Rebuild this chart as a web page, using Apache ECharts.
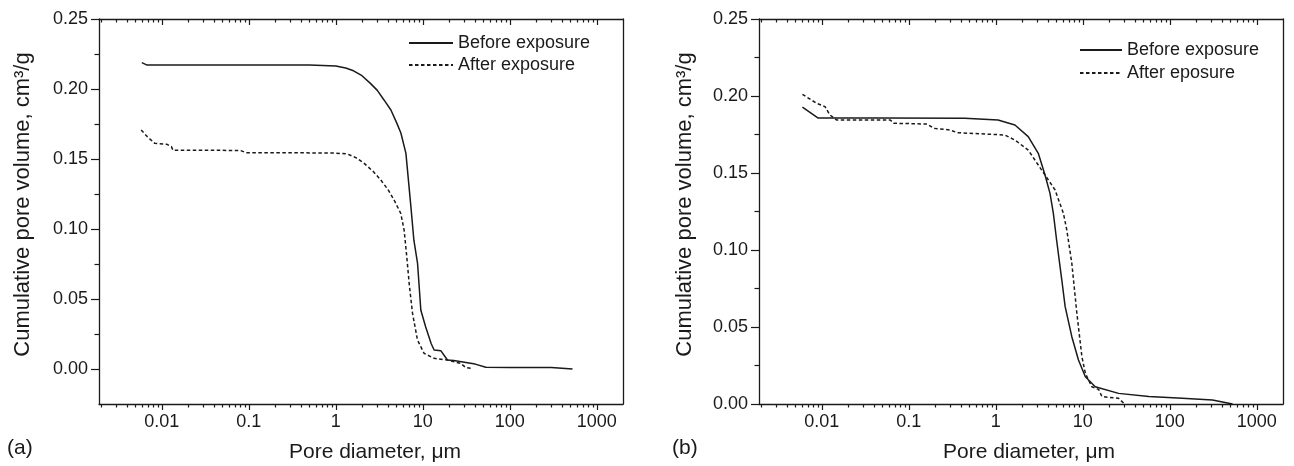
<!DOCTYPE html>
<html>
<head>
<meta charset="utf-8">
<script src="https://cdn.jsdelivr.net/npm/echarts@6/dist/echarts.min.js"></script>
<style>
  html, body { margin: 0; background: #fff; }
  #chart { width: 1294px; height: 466px; }
</style>
</head>
<body>
<div id="chart"></div>
<script>
// pore size distribution, [diameter um, cumulative volume cm3/g]
const beforeA = [
  [0.0059, 0.2188], [0.0067, 0.2172], [0.02, 0.2172], [0.1, 0.2172], [0.5, 0.2171],
  [1.0, 0.2165], [1.3, 0.2150], [1.6, 0.2130], [2.0, 0.2095], [2.5, 0.2040],
  [3.0, 0.1990], [3.6, 0.1920], [4.3, 0.1850], [5.0, 0.1760], [5.6, 0.1686],
  [6.4, 0.1540], [7.3, 0.1160], [7.9, 0.0920], [8.7, 0.0757], [9.5, 0.0420],
  [10.8, 0.0300], [12.5, 0.0180], [13.5, 0.0136], [16.1, 0.0131], [19.2, 0.0064],
  [22.7, 0.0060], [32.6, 0.0045], [40, 0.0035], [53, 0.0012], [100, 0.0011],
  [300, 0.0011], [526, 0.0]
];
const afterA = [
  [0.0058, 0.1707], [0.0068, 0.1660], [0.0083, 0.1612], [0.0115, 0.1605], [0.0129, 0.1588],
  [0.0135, 0.1562], [0.05, 0.1562], [0.081, 0.1560], [0.093, 0.1545], [0.3, 0.1545],
  [1.0, 0.1542], [1.36, 0.1536], [1.7, 0.1510], [2.12, 0.1469], [2.7, 0.1410],
  [3.29, 0.1350], [4.0, 0.1280], [4.68, 0.1207], [5.58, 0.1112], [6.1, 0.0993],
  [6.55, 0.0800], [7.0, 0.0600], [7.62, 0.0398], [8.69, 0.0207], [10.35, 0.0112],
  [13.5, 0.0076], [19.2, 0.0064], [27.3, 0.0040], [31.2, 0.0010], [35.7, 0.0005]
];
const beforeB = [
  [0.006, 0.1927], [0.0091, 0.1857], [0.05, 0.1857], [0.44, 0.1855], [1.06, 0.1844],
  [1.66, 0.1812], [2.36, 0.1736], [3.08, 0.1628], [3.68, 0.1487], [4.2, 0.1368],
  [4.59, 0.1238], [5.0, 0.1065], [5.74, 0.0805], [6.27, 0.0632], [7.48, 0.0437],
  [8.92, 0.0286], [10.7, 0.0177], [13.9, 0.0112], [25.8, 0.0069], [57.4, 0.0048],
  [139, 0.0037], [309, 0.0026], [527, 0.0]
];
const afterB = [
  [0.006, 0.2011], [0.0087, 0.1953], [0.0109, 0.1931], [0.0124, 0.1877], [0.0149, 0.1844],
  [0.0613, 0.1844], [0.067, 0.1823], [0.163, 0.1818], [0.194, 0.1790], [0.30, 0.1779],
  [0.36, 0.1762], [1.27, 0.1747], [1.66, 0.1714], [2.36, 0.1649], [3.37, 0.1519],
  [4.8, 0.1390], [5.99, 0.1238], [6.55, 0.1130], [7.48, 0.0914], [8.55, 0.0589],
  [9.77, 0.0307], [10.7, 0.0199], [12.7, 0.0112], [15.2, 0.0095], [16.6, 0.0048],
  [25.8, 0.0037], [29.5, 0.0005]
];

const decadeTicks = [0.01, 0.1, 1, 10, 100, 1000];
const decadeLabels = ['0.01', '0.1', '1', '10', '100', '1000'];
const minorSteps = [2, 3, 4, 5, 6, 7, 8, 9];
const yMajor = [0, 0.05, 0.1, 0.15, 0.2, 0.25];
const yLabels = ['0.00', '0.05', '0.10', '0.15', '0.20', '0.25'];
const yMinor = [0.025, 0.075, 0.125, 0.175, 0.225];

const FONT = '"Liberation Sans", Arial, Helvetica, sans-serif';
const INK = '#1a1a1a';
const X_MIN = 0.0019, X_MAX = 2000;

// 2..9 between decades
const xMinor = [];
[0.001].concat(decadeTicks).forEach(d => {
  minorSteps.forEach(m => {
    const v = +(d * m).toPrecision(3);
    if (v > X_MIN && v < X_MAX) xMinor.push(v);
  });
});

function pickLabel(v, ticks, labels) {
  for (let i = 0; i < ticks.length; i++) {
    if (Math.abs(v - ticks[i]) <= ticks[i] * 1e-6 + 1e-9) return labels[i];
  }
  return '';
}

function xAxes(grid, namePad) {
  const base = (pos, ticks, len, inside) => ({
    type: 'log', gridIndex: grid, position: pos, min: X_MIN, max: X_MAX,
    axisLine: { show: false, onZero: false },
    axisTick: { show: true, customValues: ticks, length: len, inside: inside,
      lineStyle: { color: INK, width: 1.2 } },
    axisLabel: { show: false },
    splitLine: { show: false }
  });
  const main = base('bottom', decadeTicks, 6, false);
  main.axisLine = { show: true, onZero: false, lineStyle: { color: INK, width: 1.3 } };
  main.axisLabel = {
    show: true, customValues: decadeTicks, margin: 9,
    fontFamily: FONT, fontSize: 18, color: INK,
    formatter: v => pickLabel(v, decadeTicks, decadeLabels)
  };
  main.name = 'Pore diameter, μm';
  main.nameLocation = 'middle';
  main.nameGap = 38;
  main.nameTextStyle = { fontFamily: FONT, fontSize: 21, color: INK, padding: [0, 0, 0, namePad] };
  const top = base('top', decadeTicks, 6, true);
  top.axisLine = { show: true, onZero: false, lineStyle: { color: INK, width: 1.3 } };
  return [main, base('bottom', xMinor, 3.5, false), top, base('top', xMinor, 3.5, true)];
}

function yAxes(grid, yMin, nameGap) {
  const base = (pos, ticks, len) => ({
    type: 'value', gridIndex: grid, position: pos, min: yMin, max: 0.25,
    axisLine: { show: false, onZero: false },
    axisTick: { show: true, customValues: ticks, length: len, lineStyle: { color: INK, width: 1.2 } },
    axisLabel: { show: false },
    splitLine: { show: false }
  });
  const main = base('left', yMajor, 8);
  main.axisLine = { show: true, onZero: false, lineStyle: { color: INK, width: 1.3 } };
  main.axisLabel = {
    show: true, customValues: yMajor, margin: 11,
    fontFamily: FONT, fontSize: 18, color: INK,
    formatter: v => pickLabel(v, yMajor, yLabels)
  };
  main.name = 'Cumulative pore volume, cm³/g';
  main.nameLocation = 'middle';
  main.nameGap = nameGap;
  main.nameRotate = 90;
  main.nameTextStyle = { fontFamily: FONT, fontSize: 22, color: INK, padding: [0, 0, 0, 14] };
  const right = base('right', [], 0);
  right.axisTick = { show: false };
  right.axisLine = { show: true, onZero: false, lineStyle: { color: INK, width: 1.3 } };
  return [main, base('left', yMinor, 4.5), right];
}

function lineSeries(name, data, xi, yi, dashed) {
  return {
    type: 'line', name: name, data: data, xAxisIndex: xi, yAxisIndex: yi,
    symbol: 'none', smooth: false,
    lineStyle: { color: INK, width: 1.5, type: dashed ? [3.5, 2.5] : 'solid' },
    itemStyle: { color: INK }
  };
}

const legendText = { fontFamily: FONT, fontSize: 18, color: INK };

const chart = echarts.init(document.getElementById('chart'));
chart.setOption({
  animation: false,
  backgroundColor: '#fff',
  grid: [
    { left: 99, top: 19, width: 524, height: 385, containLabel: false, outerBoundsMode: 'none' },
    { left: 759, top: 19, width: 524, height: 385, containLabel: false, outerBoundsMode: 'none' }
  ],
  xAxis: xAxes(0, 28).concat(xAxes(1, 16)),
  yAxis: yAxes(0, -0.025, 65).concat(yAxes(1, 0, 63)),
  legend: [
    { data: ['Before exposure', 'After exposure'], orient: 'vertical', left: 408, top: 34,
      padding: 0, itemWidth: 44, itemHeight: 14, itemGap: 4, textStyle: legendText,
      itemStyle: { opacity: 0 }, selectedMode: false },
    { data: ['Before exposure', 'After eposure'], orient: 'vertical', left: 1079, top: 41,
      padding: 0, itemWidth: 42, itemHeight: 14, itemGap: 5, textStyle: legendText,
      itemStyle: { opacity: 0 }, selectedMode: false }
  ],
  graphic: [
    { type: 'text', left: 7, top: 438, style: { text: '(a)', font: '21px ' + FONT, fill: INK } },
    { type: 'text', left: 672, top: 438, style: { text: '(b)', font: '21px ' + FONT, fill: INK } }
  ],
  series: [
    lineSeries('Before exposure', beforeA, 0, 0, false),
    lineSeries('After exposure', afterA, 0, 0, true),
    lineSeries('Before exposure', beforeB, 4, 3, false),
    lineSeries('After eposure', afterB, 4, 3, true)
  ]
});
</script>
</body>
</html>
